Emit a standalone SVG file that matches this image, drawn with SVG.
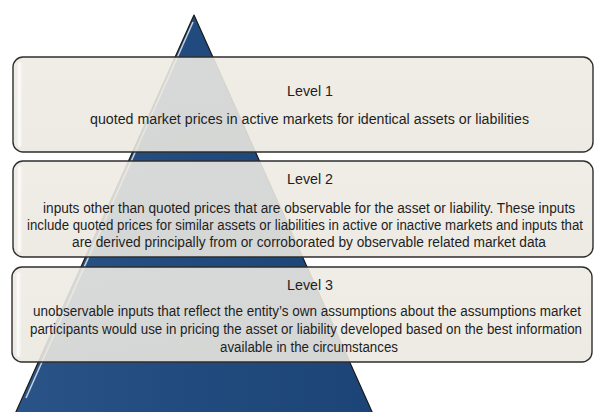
<svg xmlns="http://www.w3.org/2000/svg" width="594" height="412" viewBox="0 0 594 412">
<defs>
<linearGradient id="triG" x1="0" y1="0" x2="1" y2="0">
<stop offset="0" stop-color="#2a5488"/>
<stop offset="0.5" stop-color="#214b7e"/>
<stop offset="1" stop-color="#1d4476"/>
</linearGradient>
<linearGradient id="boxG" x1="0" y1="0" x2="0" y2="1">
<stop offset="0" stop-color="#eeebe4"/>
<stop offset="1" stop-color="#ebe8e0"/>
</linearGradient>
<linearGradient id="glossG" x1="0" y1="0" x2="1" y2="0">
<stop offset="0" stop-color="#ffffff" stop-opacity="0"/>
<stop offset="0.3" stop-color="#ffffff" stop-opacity="0.9"/>
<stop offset="1" stop-color="#ffffff" stop-opacity="0"/>
</linearGradient>
<style>
.box{fill:url(#boxG);fill-opacity:0.89;stroke:#2e2e2e;stroke-width:1.4}
.title{font-family:"Liberation Sans",Arial,sans-serif;font-size:12.5px;fill:#1e1e1e;text-anchor:middle}
.body{font-family:"Liberation Sans",Arial,sans-serif;font-size:12.5px;fill:#1e1e1e;text-anchor:middle}
</style>
</defs>
<rect width="594" height="412" fill="#ffffff"/>
<g id="pyramid">
<path d="M194,15 L373,414 L15,414 Z" fill="url(#triG)" stroke="#1a1a1a" stroke-width="1.2" stroke-linejoin="round"/>
<path d="M193,22 L26,398" stroke="#ffffff" stroke-opacity="0.75" stroke-width="1.5" fill="none"/>
</g>
<g id="level1">
<rect class="box" x="13" y="57" width="580" height="95" rx="10"/>
<rect x="17" y="62" width="6" height="85" rx="3" fill="url(#glossG)"/>
<text class="title" transform="translate(310,96) scale(1,1.2)" textLength="46" lengthAdjust="spacingAndGlyphs">Level 1</text>
<text class="body" transform="translate(309.5,124) scale(1,1.2)" textLength="439" lengthAdjust="spacingAndGlyphs">quoted market prices in active markets for identical assets or liabilities</text>
</g>
<g id="level2">
<rect class="box" x="13" y="161" width="580" height="96" rx="10"/>
<rect x="17" y="166" width="6" height="86" rx="3" fill="url(#glossG)"/>
<text class="title" transform="translate(310,184) scale(1,1.2)" textLength="46" lengthAdjust="spacingAndGlyphs">Level 2</text>
<text class="body" transform="translate(309,213) scale(1,1.2)" textLength="532" lengthAdjust="spacingAndGlyphs">inputs other than quoted prices that are observable for the asset or liability. These inputs</text>
<text class="body" transform="translate(305,230) scale(1,1.2)" textLength="556" lengthAdjust="spacingAndGlyphs">include quoted prices for similar assets or liabilities in active or inactive markets and inputs that</text>
<text class="body" transform="translate(309,247) scale(1,1.2)" textLength="474" lengthAdjust="spacingAndGlyphs">are derived principally from or corroborated by observable related market data</text>
</g>
<g id="level3">
<rect class="box" x="12" y="267" width="580" height="95" rx="10"/>
<rect x="16" y="272" width="6" height="85" rx="3" fill="url(#glossG)"/>
<text class="title" transform="translate(310,290) scale(1,1.2)" textLength="46" lengthAdjust="spacingAndGlyphs">Level 3</text>
<text class="body" transform="translate(307,316) scale(1,1.2)" textLength="548" lengthAdjust="spacingAndGlyphs">unobservable inputs that reflect the entity’s own assumptions about the assumptions market</text>
<text class="body" transform="translate(306,334) scale(1,1.2)" textLength="552" lengthAdjust="spacingAndGlyphs">participants would use in pricing the asset or liability developed based on the best information</text>
<text class="body" transform="translate(309,352) scale(1,1.2)" textLength="178" lengthAdjust="spacingAndGlyphs">available in the circumstances</text>
</g>
<g id="connectors"></g>
</svg>
